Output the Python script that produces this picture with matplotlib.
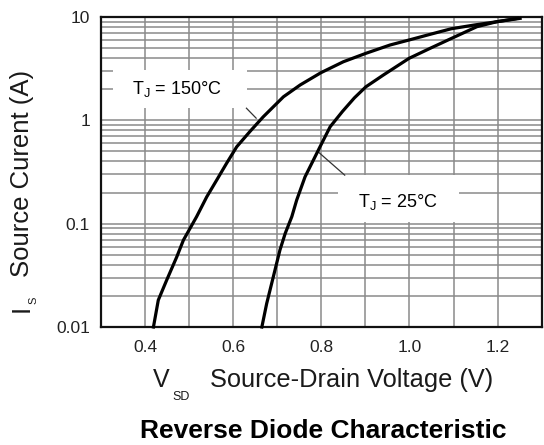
import matplotlib
matplotlib.use("Agg")
import matplotlib.pyplot as plt
from matplotlib.patches import Rectangle
from matplotlib.ticker import NullFormatter, LogLocator

plt.rcParams['font.family'] = ['Liberation Sans', 'DejaVu Sans']
plt.rcParams['mathtext.fontset'] = 'custom'
plt.rcParams['mathtext.rm'] = 'Liberation Sans'
plt.rcParams['mathtext.it'] = 'Liberation Sans:italic'
plt.rcParams['mathtext.bf'] = 'Liberation Sans:bold'

# ---- data ----
v_150 = [0.419, 0.430, 0.449, 0.472, 0.487, 0.502, 0.517, 0.540, 0.5625, 0.585, 0.608,
         0.638, 0.668, 0.683, 0.714, 0.752, 0.799, 0.850, 0.901, 0.956, 0.999, 1.047,
         1.095, 1.150, 1.198, 1.251]
i_150 = [0.01, 0.0182, 0.0284, 0.0478, 0.0693, 0.090, 0.117, 0.182, 0.264, 0.384, 0.555,
         0.78, 1.08, 1.25, 1.69, 2.20, 2.89, 3.69, 4.45, 5.36, 5.99, 6.80,
         7.70, 8.4, 9.0, 9.7]
v_25 = [0.665, 0.676, 0.691, 0.706, 0.718, 0.733, 0.744, 0.763, 0.782, 0.797, 0.820,
        0.848, 0.875, 0.901, 0.941, 0.999, 1.047, 1.095, 1.153, 1.198, 1.245]
i_25 = [0.01, 0.0169, 0.0306, 0.0555, 0.0805, 0.117, 0.169, 0.284, 0.413, 0.555, 0.867,
        1.22, 1.65, 2.11, 2.75, 3.98, 4.98, 6.2, 8.06, 9.0, 9.7]

x_ticks = [0.4, 0.6, 0.8, 1.0, 1.2]
x_tick_labels = ['0.4', '0.6', '0.8', '1.0', '1.2']
x_grid = [0.3, 0.4, 0.5, 0.6, 0.7, 0.8, 0.9, 1.0, 1.1, 1.2, 1.3]
y_ticks = [0.01, 0.1, 1, 10]
y_tick_labels = ['0.01', '0.1', '1', '10']

label_150 = r'T$_\mathregular{J}$ = 150°C'
label_25 = r'T$_\mathregular{J}$ = 25°C'
lead_150_v = [0.63, 0.652]
lead_150_i = [1.31, 1.05]
lead_25_v = [0.794, 0.853]
lead_25_i = [0.49, 0.295]

W, H = 544, 445
fig = plt.figure(figsize=(W / 100, H / 100), dpi=100)
L, R, T, B = 101, 541.7, 17, 327
ax = fig.add_axes([L / W, 1 - B / H, (R - L) / W, (B - T) / H])

ax.set_yscale('log')
ax.set_xlim(0.3, 1.3)
ax.set_ylim(0.01, 10)

grid_c = '#8a8a8a'
ax.set_xticks(x_grid, minor=True)
ax.set_xticks(x_ticks)
ax.set_xticklabels(x_tick_labels)
ax.set_yticks(y_ticks)
ax.set_yticklabels(y_tick_labels)
ax.yaxis.set_minor_locator(LogLocator(base=10, subs=range(2, 10)))
ax.yaxis.set_minor_formatter(NullFormatter())
ax.grid(True, which='both', axis='both', color=grid_c, lw=1.1)
ax.tick_params(which='both', length=0)
ax.tick_params(axis='x', pad=9, labelsize=12.5, labelcolor='#222222')
ax.tick_params(axis='y', pad=8, labelsize=12.5, labelcolor='#222222')
ax.set_axisbelow(True)
for s in ax.spines.values():
    s.set_color('#111111')
    s.set_linewidth(1.6)

ax.plot(v_150, i_150, color='black', lw=2.3, zorder=5, clip_on=False)
ax.plot(v_25, i_25, color='black', lw=2.3, zorder=5, clip_on=False)

# label boxes
ax.add_patch(Rectangle((0.027, 0.706), 0.304, 0.123, transform=ax.transAxes,
                       facecolor='white', edgecolor='none', zorder=3))
ax.add_patch(Rectangle((0.538, 0.339), 0.274, 0.151, transform=ax.transAxes,
                       facecolor='white', edgecolor='none', zorder=3))
ax.text(0.172, 0.768, label_150, transform=ax.transAxes, ha='center', va='center',
        fontsize=13, zorder=4)
ax.text(0.674, 0.404, label_25, transform=ax.transAxes, ha='center', va='center',
        fontsize=13, zorder=4)
ax.plot(lead_150_v, lead_150_i, color='#333333', lw=0.9, zorder=4)
ax.plot(lead_25_v, lead_25_i, color='#333333', lw=0.9, zorder=4)

def fx(x):
    return x / W

def fy(y):
    return 1 - y / H

txt_c = '#1a1a1a'
# y label
fig.text(fx(22), fy(277), 'Source Curent (A)', rotation=90, ha='center', va='bottom',
         fontsize=18.5, color=txt_c)
fig.text(fx(22), fy(308), 'I', rotation=90, ha='center', va='center', fontsize=18.5, color=txt_c)
fig.text(fx(33.5), fy(300), 'S', rotation=90, ha='center', va='center', fontsize=8, color=txt_c)
# x label
fig.text(fx(153), fy(387), 'V', ha='left', va='baseline', fontsize=18, color=txt_c)
fig.text(fx(172), fy(400), 'SD', ha='left', va='baseline', fontsize=9, color=txt_c)
fig.text(fx(210), fy(387), 'Source-Drain Voltage (V)', ha='left', va='baseline',
         fontsize=18.3, color=txt_c)
# title
fig.text(fx(323.5), fy(438), 'Reverse Diode Characteristic', ha='center', va='baseline',
         fontsize=19, fontweight='bold', color='black')

fig.savefig('out.png', dpi=100, facecolor='white')
